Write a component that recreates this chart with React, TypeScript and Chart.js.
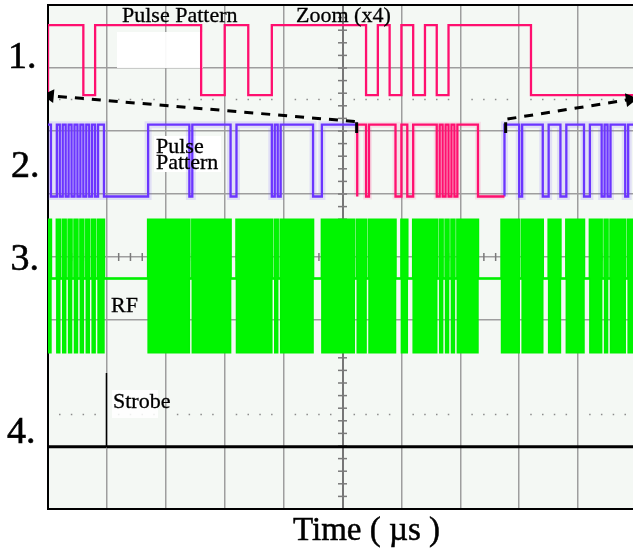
import React, { useEffect, useRef } from "react";
import { Chart, registerables } from "chart.js";

Chart.register(...registerables);

// ---------------- data (oscilloscope divisions: x 0..10, y 0..8) ----------------
// Trace 1: zoomed (x4) pulse pattern, one bit = 0.2 div
const zoomBits = [0,1,1,1,0,1,1,1,1,1,1,1,1,1,0,0,1,1,0,0,1,1,1,1,1,1,1,1,0,1,0,1,0,1,0,1,1,1,1,1,1,1,0,0,0,0,0,0,0,0];
// Trace 2: full pulse pattern, one bit = 0.05 div (zoom window = zoomBits)
const leadBits = [
  1,1,0,0,1,0,1,0,1,0,1,0,1,0,1,0,1,0,1,1,
  0,0,0,0,0,0,0,0,0,0,0,0,0,0,0,
  1,1,1,1,1,1,1,1,1,1,1,1,1,1,0,
  1,1,1,1,1,1,1,1,1,1,1,1,1,0,0,
  1,1,1,1,1,1,1,1,1,1,1,1,0,1,0,
  1,1,1,1,1,1,1,1,1,1,1,0,0,0,
  1,1,1,1,1,1,1,1,1,1,1,
];
const tailBits = [
  1,1,1,1,1,1,0,
  1,1,1,1,1,1,1,0,0,
  1,1,1,1,0,0,
  1,1,1,1,1,1,0,0,
  1,1,1,1,0,1,0,
  1,1,1,1,1,0,1,1,
];
const zoomBitWidth = 0.2;
const patternBitWidth = 0.05;
const trace1Levels = [6.57, 7.68];
const trace2Levels = [4.96, 6.1];
const rfBottom = 2.48;
const rfMid = 3.66;
const rfTop = 4.59;
const strobeX = [0, 0.985, 0.985, 1.0, 10];
const strobeY = [0.99, 0.99, 2.16, 0.99, 0.99];
const arrowLeftX = [5.21, 0.03];
const arrowLeftY = [6.15, 6.56];
const arrowRightX = [7.8, 9.88];
const arrowRightY = [6.19, 6.5];
const markerX = [5.24, 7.77];
const markerY = [6.14, 5.97];

type P = { x: number; y: number | null };

function stepPoints(bits: number[], start: number, width: number, lo: number, hi: number): P[] {
  const pts: P[] = bits.map((b, i) => ({ x: start + i * width, y: b ? hi : lo }));
  pts.push({ x: start + bits.length * width, y: bits[bits.length - 1] ? hi : lo });
  return pts;
}

const allBits = [...leadBits, ...zoomBits, ...tailBits];
const zoomStart = leadBits.length * patternBitWidth;
const zoomEnd = (leadBits.length + zoomBits.length) * patternBitWidth;

const PINK = "#ff0f6f";
const PURPLE = "#6b35ff";
const GREEN = "#00f000";

const scopePlugin = {
  id: "scopeOverlay",
  beforeDraw(chart: any) {
    const { ctx, chartArea } = chart;
    ctx.save();
    ctx.fillStyle = "#f4f8f4";
    ctx.fillRect(chartArea.left, chartArea.top, chartArea.right - chartArea.left, chartArea.bottom - chartArea.top);
    ctx.restore();
  },
  beforeDatasetsDraw(chart: any) {
    const { ctx, chartArea } = chart;
    const xs = chart.scales.x;
    const ys = chart.scales.y;
    ctx.save();
    ctx.beginPath();
    ctx.rect(chartArea.left, chartArea.top, chartArea.right - chartArea.left, chartArea.bottom - chartArea.top);
    ctx.clip();
    // minor ticks on the centre vertical axis
    const cx = xs.getPixelForValue(5);
    ctx.strokeStyle = "#7a7a7a";
    ctx.lineWidth = 1.5;
    for (let i = 1; i < 40; i++) {
      const y = ys.getPixelForValue(i * 0.2);
      ctx.beginPath();
      ctx.moveTo(cx - 4.5, y);
      ctx.lineTo(cx + 4.5, y);
      ctx.stroke();
    }
    // minor ticks on the RF centre line
    const cy = ys.getPixelForValue(4);
    for (let i = 1; i < 50; i++) {
      if (i % 5 === 0) continue;
      const x = xs.getPixelForValue(i * 0.2);
      ctx.beginPath();
      ctx.moveTo(x, cy - 4);
      ctx.lineTo(x, cy + 4);
      ctx.stroke();
    }
    // dotted half-division lines
    ctx.fillStyle = "#8c8c8c";
    for (const v of [1.5, 6.5]) {
      const y = ys.getPixelForValue(v);
      for (let i = 1; i < 50; i++) {
        if (i % 5 === 0) continue;
        const x = xs.getPixelForValue(i * 0.2);
        ctx.fillRect(x - 0.75, y - 0.75, 1.5, 1.5);
      }
    }
    // white label boxes
    ctx.fillStyle = "rgba(255,255,255,0.94)";
    ctx.fillRect(117, 32, 86, 36);
    ctx.fillStyle = "#ffffff";
    ctx.fillRect(154, 136, 67, 36);
    ctx.fillStyle = "rgba(255,255,255,0.85)";
    ctx.fillRect(112, 390, 46, 28);
    ctx.restore();
  },
  afterDraw(chart: any) {
    const { ctx } = chart;
    ctx.save();
    ctx.fillStyle = "#000";
    ctx.strokeStyle = "#000";
    ctx.textAlign = "left";
    ctx.textBaseline = "alphabetic";
    ctx.font = '38px "Liberation Serif"';
    ctx.lineWidth = 0.6;
    const big: [string, number, number][] = [["1.", 8, 68], ["2.", 11, 177], ["3.", 10.5, 270], ["4.", 7, 443]];
    for (const [t, x, y] of big) { ctx.fillText(t, x, y); ctx.strokeText(t, x, y); }
    ctx.font = '22px "Liberation Serif"';
    ctx.lineWidth = 0.3;
    const small: [string, number, number][] = [
      ["Pulse Pattern", 122, 22],
      ["Zoom (x4)", 296, 22],
      ["Pulse", 156, 153],
      ["Pattern", 156, 169],
      ["RF", 111, 312],
      ["Strobe", 113, 408],
    ];
    for (const [t, x, y] of small) { ctx.fillText(t, x, y); ctx.strokeText(t, x, y); }
    ctx.font = '33px "Liberation Serif"';
    ctx.lineWidth = 0.5;
    ctx.fillText("Time ( \u00b5s )", 293, 540);
    ctx.strokeText("Time ( \u00b5s )", 293, 540);
    ctx.restore();
  },
};

export default function App() {
  const ref = useRef<HTMLCanvasElement | null>(null);

  useEffect(() => {
    if (!ref.current) return;
    const t1 = stepPoints(zoomBits, 0, zoomBitWidth, trace1Levels[0], trace1Levels[1]);
    const lead = stepPoints(leadBits, 0, patternBitWidth, trace2Levels[0], trace2Levels[1]);
    const zoomPart = stepPoints(zoomBits, zoomStart, patternBitWidth, trace2Levels[0], trace2Levels[1]);
    zoomPart.unshift({ x: zoomStart, y: leadBits[leadBits.length - 1] ? trace2Levels[1] : trace2Levels[0] });
    const tail = stepPoints(tailBits, zoomEnd, patternBitWidth, trace2Levels[0], trace2Levels[1]);
    tail.unshift({ x: zoomEnd, y: zoomBits[zoomBits.length - 1] ? trace2Levels[1] : trace2Levels[0] });
    const rfUpper = stepPoints(allBits, 0, patternBitWidth, rfMid, rfTop);
    const rfLower = stepPoints(allBits, 0, patternBitWidth, rfMid, rfBottom);
    const strobe = strobeX.map((x, i) => ({ x, y: strobeY[i] }));
    const arrowL = arrowLeftX.map((x, i) => ({ x, y: arrowLeftY[i] }));
    const arrowR = arrowRightX.map((x, i) => ({ x, y: arrowRightY[i] }));
    const markers: P[] = [
      { x: markerX[0], y: markerY[0] },
      { x: markerX[0], y: markerY[1] },
      { x: (markerX[0] + markerX[1]) / 2, y: null },
      { x: markerX[1], y: markerY[0] },
      { x: markerX[1], y: markerY[1] },
    ];

    const common = { pointRadius: 0, pointHoverRadius: 0, fill: false, tension: 0 };

    const chart = new Chart(ref.current, {
      type: "line",
      data: {
        datasets: [
          // purple persistence halo
          { ...common, data: lead, stepped: "after", borderColor: "rgba(125,95,255,0.16)", borderWidth: 7, order: 5 },
          { ...common, data: tail, stepped: "after", borderColor: "rgba(125,95,255,0.16)", borderWidth: 7, order: 5 },
          { ...common, data: zoomPart, stepped: "after", borderColor: "rgba(255,60,140,0.12)", borderWidth: 6, order: 5 },
          // RF bursts
          { ...common, data: rfUpper, stepped: "after", borderColor: GREEN, borderWidth: 2.5, order: 4 },
          { ...common, data: rfLower, stepped: "after", borderColor: GREEN, borderWidth: 1.5, backgroundColor: "#00f500", fill: "-1", order: 3 },
          // trace 1 (zoom)
          { ...common, data: t1, stepped: "after", borderColor: PINK, borderWidth: 2.3, order: 2 },
          // trace 2
          { ...common, data: lead, stepped: "after", borderColor: PURPLE, borderWidth: 2.3, order: 2 },
          { ...common, data: zoomPart, stepped: "after", borderColor: PINK, borderWidth: 2.3, order: 2 },
          { ...common, data: tail, stepped: "after", borderColor: PURPLE, borderWidth: 2.3, order: 2 },
          // trace 4 strobe
          {
            ...common,
            data: strobe,
            borderColor: "#000",
            borderWidth: 3,
            order: 2,
            segment: { borderWidth: (c: any) => (c.p0DataIndex === 1 || c.p0DataIndex === 2 ? 1.5 : 3) },
          },
          // zoom arrows
          {
            ...common,
            data: arrowL,
            borderColor: "#000",
            borderWidth: 3,
            borderDash: [9, 8],
            pointRadius: [0, 5],
            pointStyle: "triangle",
            pointRotation: -85,
            pointBackgroundColor: "#000",
            pointBorderColor: "#000",
            order: 1,
          },
          {
            ...common,
            data: arrowR,
            borderColor: "#000",
            borderWidth: 3,
            borderDash: [9, 8],
            pointRadius: [0, 5],
            pointStyle: "triangle",
            pointRotation: 81,
            pointBackgroundColor: "#000",
            pointBorderColor: "#000",
            order: 1,
          },
          { ...common, data: markers, borderColor: "#000", borderWidth: 3, spanGaps: false, order: 1 },
        ] as any,
      },
      options: {
        animation: false,
        responsive: false,
        devicePixelRatio: 1,
        events: [],
        layout: { padding: { left: 48, top: 5, right: 0, bottom: 42 }, autoPadding: false },
        plugins: { legend: { display: false }, tooltip: { enabled: false }, title: { display: false } },
        scales: {
          x: {
            type: "linear",
            min: 0,
            max: 9.932,
            ticks: { display: false, stepSize: 1, includeBounds: false },
            grid: {
              drawTicks: false,
              color: (c: any) => (c.tick && c.tick.value === 5 ? "#777777" : "#9e9e9e"),
              lineWidth: (c: any) => (c.tick && c.tick.value === 5 ? 2 : 1.5),
            },
            border: { display: true, color: "#000", width: 2 },
          },
          y: {
            type: "linear",
            min: 0,
            max: 8,
            ticks: { display: false, stepSize: 0.5 },
            grid: {
              drawTicks: false,
              color: (c: any) => {
                const v = c.tick ? c.tick.value : -1;
                if (v === 8) return "#000000";
                if (v >= 3 && v <= 7 && Number.isInteger(v)) return "#9e9e9e";
                return "rgba(0,0,0,0)";
              },
              lineWidth: (c: any) => (c.tick && c.tick.value === 8 ? 2 : 1.5),
            },
            border: { display: true, color: "#000", width: 2 },
          },
        },
      } as any,
      plugins: [scopePlugin],
    });
    return () => chart.destroy();
  }, []);

  return (
    <div style={{ position: "absolute", left: 0, top: 0, width: 633, height: 551, background: "#fff" }}>
      <canvas ref={ref} width={633} height={551} style={{ display: "block" }} />
    </div>
  );
}
